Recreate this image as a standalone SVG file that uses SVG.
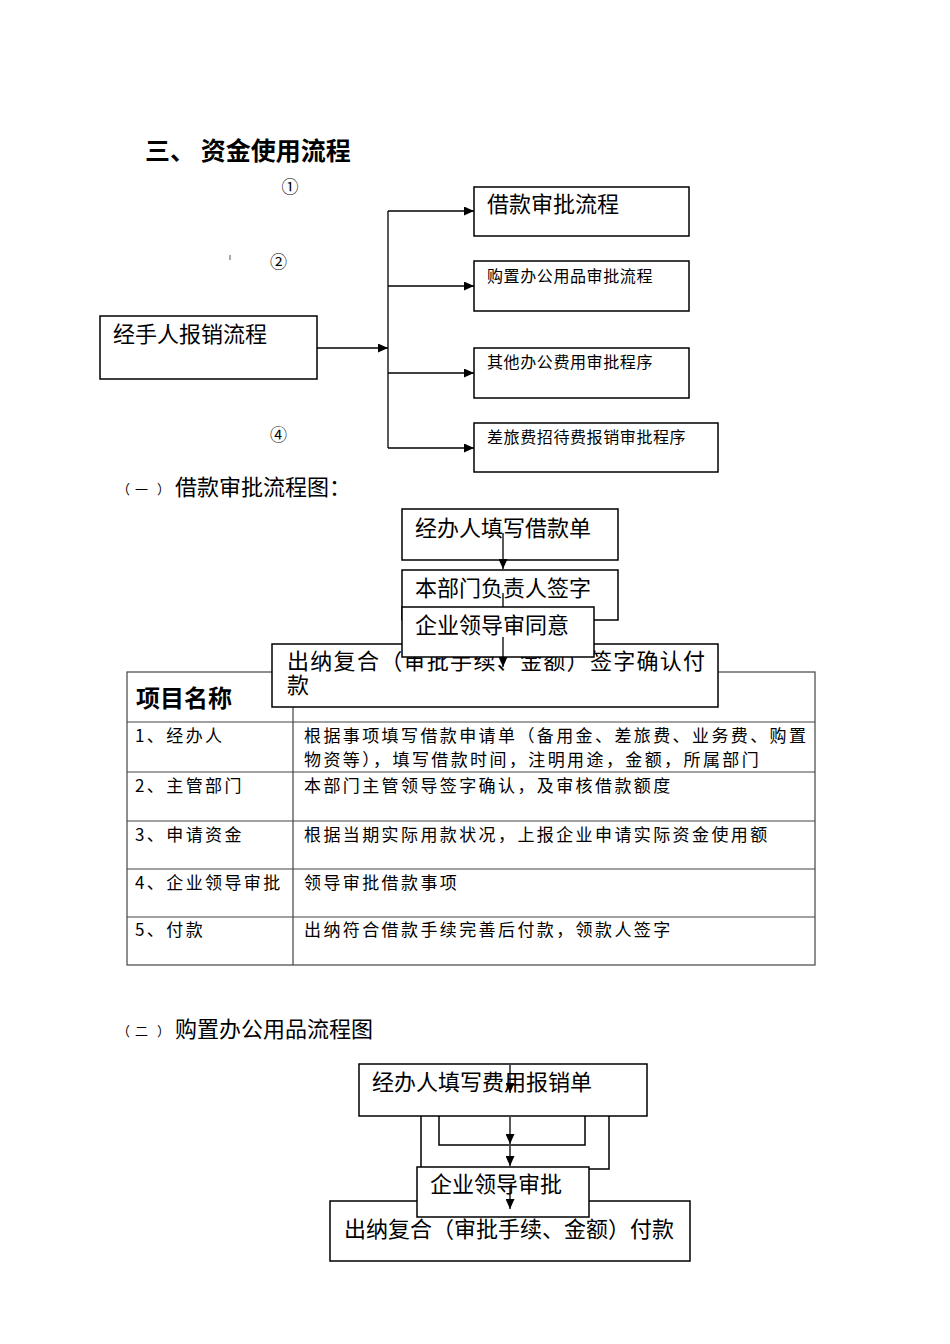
<svg xmlns="http://www.w3.org/2000/svg" width="950" height="1344" viewBox="0 0 950 1344">
<defs>
<marker id="ah" viewBox="0 0 10 9" refX="10" refY="4.5" markerWidth="10" markerHeight="9" markerUnits="userSpaceOnUse" orient="auto">
<path d="M0,0 L10,4.5 L0,9 Z" fill="#000"/>
</marker>
</defs>
<style>
text{font-family:"Noto Sans CJK SC","Noto Sans",sans-serif;fill:#000}
.box{fill:#fff;stroke:#000;stroke-width:1.5}
.ln{fill:none;stroke:#000;stroke-width:1.3}
.arr{fill:none;stroke:#000;stroke-width:1.3;marker-end:url(#ah)}
.tl{fill:none;stroke:#444;stroke-width:1.2}
.t22{font-size:22px}
.t16{font-size:16px;letter-spacing:0.6px}
.td{font-size:17px;letter-spacing:2.4px}
.circ{font-size:17px;text-anchor:middle}
</style>
<rect width="950" height="1344" fill="#fff"/>

<text x="145" y="160" style="font-size:25px;font-weight:bold">三、 资金使用流程</text>
<text class="circ" x="290" y="193">①</text>
<text class="circ" x="278.5" y="268">②</text>
<text class="circ" x="278.5" y="441">④</text>
<line x1="230" y1="255" x2="230" y2="260" stroke="#555" stroke-width="1"/>

<g id="connectors-top">
<line class="arr" x1="317" y1="348" x2="388" y2="348"/>
<line class="ln" x1="388" y1="211" x2="388" y2="448"/>
<line class="arr" x1="388" y1="211" x2="474" y2="211"/>
<line class="arr" x1="388" y1="286" x2="474" y2="286"/>
<line class="arr" x1="388" y1="373" x2="474" y2="373"/>
<line class="arr" x1="388" y1="448" x2="474" y2="448"/>
</g>
<g id="n-jingshouren"><rect class="box" x="100" y="316" width="217" height="63"/><text class="t22" x="113" y="342">经手人报销流程</text></g>
<g id="n-jiekuan"><rect class="box" x="474" y="187" width="215" height="49"/><text class="t22" x="487" y="212">借款审批流程</text></g>
<g id="n-gouzhi"><rect class="box" x="474" y="261" width="215" height="50"/><text class="t16" x="487" y="282">购置办公用品审批流程</text></g>
<g id="n-qita"><rect class="box" x="474" y="348" width="215" height="50"/><text class="t16" x="487" y="368">其他办公费用审批程序</text></g>
<g id="n-chailv"><rect class="box" x="474" y="423" width="244" height="49"/><text class="t16" x="487" y="443">差旅费招待费报销审批程序</text></g>

<text x="117 135 157" y="494" style="font-size:13px">（一）</text>
<text x="175" y="495" style="font-size:22px">借款审批流程图：</text>

<g id="table">
<rect class="tl" x="127" y="672" width="688" height="293"/>
<line class="tl" x1="293" y1="672" x2="293" y2="965"/>
<line class="tl" x1="127" y1="722" x2="815" y2="722"/>
<line class="tl" x1="127" y1="772" x2="815" y2="772"/>
<line class="tl" x1="127" y1="821" x2="815" y2="821"/>
<line class="tl" x1="127" y1="869" x2="815" y2="869"/>
<line class="tl" x1="127" y1="917" x2="815" y2="917"/>
<text x="136" y="707" style="font-size:24px;font-weight:bold">项目名称</text>
<text class="td" x="135" y="742">1、经办人</text>
<text class="td" x="304" y="742">根据事项填写借款申请单（备用金、差旅费、业务费、购置</text>
<text class="td" x="304" y="766">物资等），填写借款时间，注明用途，金额，所属部门</text>
<text class="td" x="135" y="792">2、主管部门</text>
<text class="td" x="304" y="792">本部门主管领导签字确认，及审核借款额度</text>
<text class="td" x="135" y="841">3、申请资金</text>
<text class="td" x="304" y="841">根据当期实际用款状况，上报企业申请实际资金使用额</text>
<text class="td" x="135" y="889">4、企业领导审批</text>
<text class="td" x="304" y="889">领导审批借款事项</text>
<text class="td" x="135" y="936">5、付款</text>
<text class="td" x="304" y="936">出纳符合借款手续完善后付款，领款人签字</text>
</g>

<g id="f1-a"><rect class="box" x="402" y="509" width="216" height="51"/><text class="t22" x="415" y="536">经办人填写借款单</text></g>
<g id="f1-b"><rect class="box" x="402" y="570" width="216" height="50"/><text class="t22" x="415" y="596">本部门负责人签字</text></g>
<line class="ln" x1="503" y1="593" x2="503" y2="612"/>
<g id="f1-d"><rect class="box" x="272" y="644" width="446" height="63"/><text class="t22" x="287" y="669" style="letter-spacing:1.3px">出纳复合（审批手续、金额）签字确认付</text><text class="t22" x="287" y="693">款</text></g>
<g id="f1-c"><rect class="box" x="402" y="607" width="192" height="50"/><text class="t22" x="415" y="633">企业领导审同意</text></g>
<g id="connectors-f1">
<line class="arr" x1="503" y1="533" x2="503" y2="569"/>
<line class="arr" x1="503" y1="637" x2="503" y2="667"/>
</g>

<text x="117 135 157" y="1036" style="font-size:13px">（二）</text>
<text x="175" y="1037" style="font-size:22px">购置办公用品流程图</text>

<g id="f2-q"><rect class="box" x="421" y="1100" width="188" height="69"/></g>
<g id="f2-r"><rect class="box" x="439" y="1104" width="146" height="41"/></g>
<g id="f2-p"><rect class="box" x="359" y="1064" width="288" height="52"/><text class="t22" x="372" y="1090">经办人填写费用报销单</text></g>
<g id="f2-f"><rect class="box" x="330" y="1201" width="360" height="60"/><text class="t22" x="344" y="1237">出纳复合（审批手续、金额）付款</text></g>
<g id="f2-e"><rect class="box" x="417" y="1167" width="172" height="50"/><text class="t22" x="430" y="1192">企业领导审批</text></g>
<g id="connectors-f2">
<line class="arr" x1="510" y1="1065" x2="510" y2="1093"/>
<line class="arr" x1="510" y1="1117" x2="510" y2="1144"/>
<line class="arr" x1="510" y1="1146" x2="510" y2="1166"/>
<line class="arr" x1="510" y1="1185" x2="510" y2="1209"/>
</g>
</svg>
